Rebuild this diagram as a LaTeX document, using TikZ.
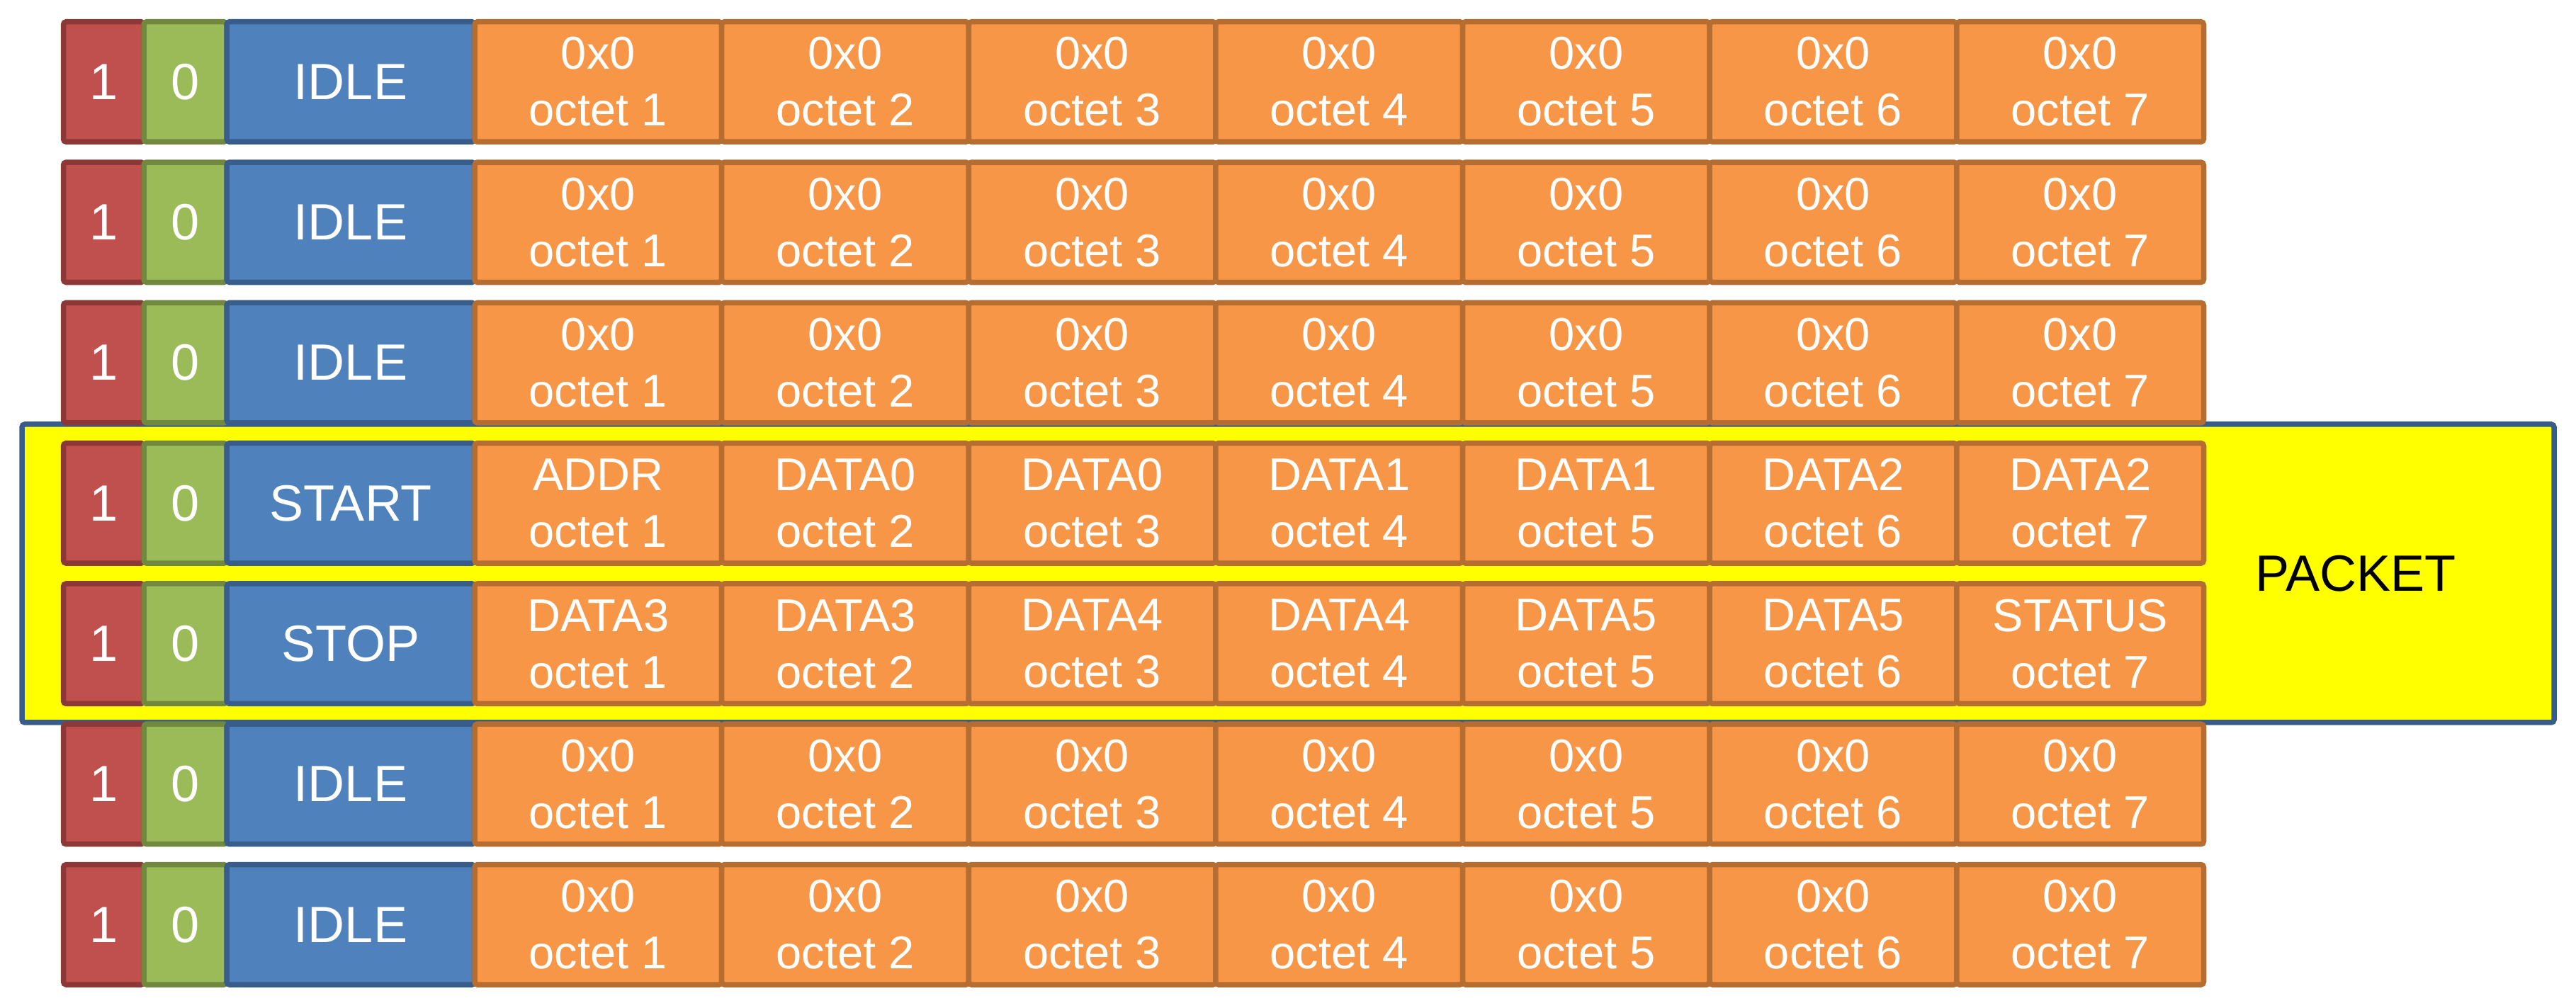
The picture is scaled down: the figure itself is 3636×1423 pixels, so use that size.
\documentclass[tikz,border=0pt]{standalone}
\usepackage{fontspec}
\setmainfont{Liberation Sans}
\definecolor{redF}{HTML}{C0504D}
\definecolor{redB}{HTML}{8C3836}
\definecolor{grnF}{HTML}{9BBB59}
\definecolor{grnB}{HTML}{71893F}
\definecolor{bluF}{HTML}{4F81BD}
\definecolor{bluB}{HTML}{385D8A}
\definecolor{orgF}{HTML}{F79646}
\definecolor{orgB}{HTML}{B66D31}
\definecolor{yelF}{HTML}{FFFF00}
\begin{document}
\begin{tikzpicture}[x=0.1mm,y=-0.1mm,
  cell/.style={draw, line width=0.75mm, rounded corners=0.4mm, inner sep=0pt,
    text=white, anchor=center, minimum height=1.695cm,
    font=\fontsize{20.5}{24}\selectfont},
  bitone/.style={cell, fill=redF, draw=redB, minimum width=1.135cm},
  bitzero/.style={cell, fill=grnF, draw=grnB, minimum width=1.17cm},
  statebox/.style={cell, fill=bluF, draw=bluB, minimum width=3.5cm},
  octetbox/.style={cell, fill=orgF, draw=orgB, minimum width=3.4864cm,
    align=center, font=\fontsize{18.5}{22.8}\selectfont},
  packetbox/.style={draw=bluB, fill=yelF, line width=0.75mm, rounded corners=0.4mm,
    inner sep=0pt, minimum width=35.74cm, minimum height=4.21cm}]
\useasboundingbox (0,0) rectangle (3636,1423);
\node[packetbox] (packetframe) at (1818,809.5) {};
\node[font=\fontsize{20.5}{24}\selectfont, text=black] (packetlabel) at (3325,809.5) {PACKET};
\foreach \r/\st/\labs in {
  1/IDLE/{0x0,0x0,0x0,0x0,0x0,0x0,0x0},
  2/IDLE/{0x0,0x0,0x0,0x0,0x0,0x0,0x0},
  3/IDLE/{0x0,0x0,0x0,0x0,0x0,0x0,0x0},
  4/START/{ADDR,DATA0,DATA0,DATA1,DATA1,DATA2,DATA2},
  5/STOP/{DATA3,DATA3,DATA4,DATA4,DATA5,DATA5,STATUS},
  6/IDLE/{0x0,0x0,0x0,0x0,0x0,0x0,0x0},
  7/IDLE/{0x0,0x0,0x0,0x0,0x0,0x0,0x0}}{
  \pgfmathsetmacro\yc{27+(\r-1)*198.3+88.5}
  \node[bitone] (r\r-one) at (146.25,\yc) {1};
  \node[bitzero] (r\r-zero) at (261.5,\yc) {0};
  \node[statebox] (r\r-state) at (495,\yc) {\st};
  \foreach \t [count=\i] in \labs {
    \pgfmathsetmacro\xc{670+(\i-0.5)*348.64}
    \node[octetbox] (r\r-o\i) at (\xc,\yc) {\t\\octet \i};
  }
}
\end{tikzpicture}
\end{document}
